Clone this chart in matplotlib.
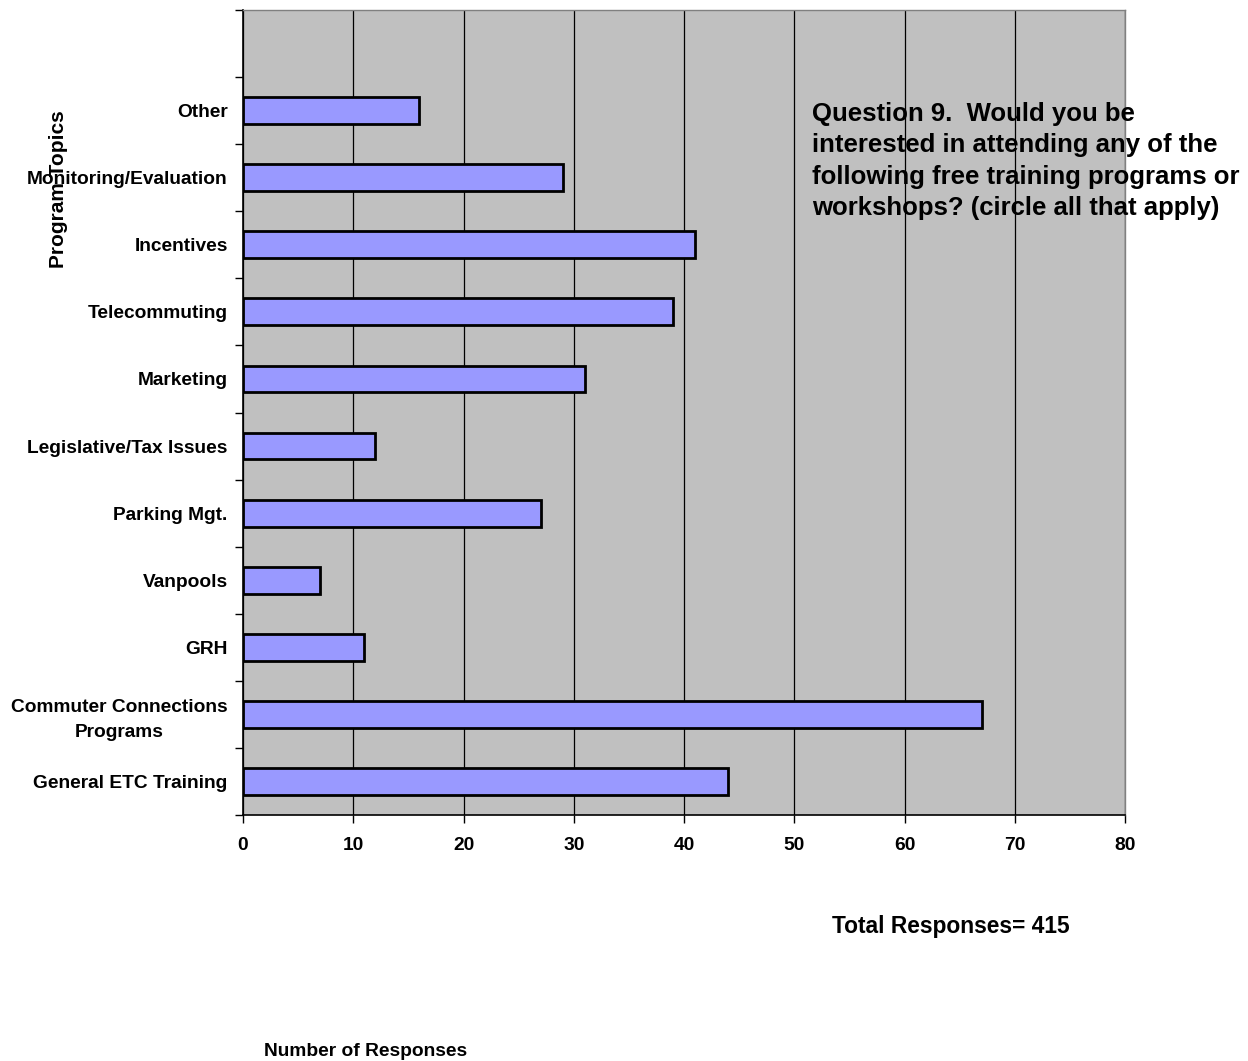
import matplotlib
matplotlib.use("Agg")
import matplotlib.pyplot as plt
import numpy as np

categories = ["General ETC Training", "Commuter Connections\nPrograms", "GRH", "Vanpools",
              "Parking Mgt.", "Legislative/Tax Issues", "Marketing", "Telecommuting",
              "Incentives", "Monitoring/Evaluation", "Other"]
values = [44, 67, 11, 7, 27, 12, 31, 39, 41, 29, 16]
x_ticks = [0, 10, 20, 30, 40, 50, 60, 70, 80]

plt.rcParams['font.family'] = ['Liberation Sans', 'DejaVu Sans']
plt.rcParams['font.weight'] = 'bold'

fig = plt.figure(figsize=(12.48, 10.61), dpi=100)
ax = fig.add_axes([243/1248, 1-815/1061, (1125-243)/1248, (815-10)/1061])
ax.set_facecolor('#c0c0c0')

y = np.arange(len(categories))
ax.barh(y, values, height=0.4, color='#9999ff', edgecolor='black', linewidth=2, zorder=3)

ax.set_xlim(0, 80)
ax.set_ylim(-0.5, len(categories) + 0.5)
ax.set_xticks(x_ticks)
ax.set_xticklabels([str(t) for t in x_ticks], fontsize=13.8, fontweight='bold')
ax.xaxis.grid(True, color='black', linewidth=0.9, zorder=1)
ax.set_axisbelow(True)

ax.set_yticks(y)
ax.set_yticklabels(categories, fontsize=13.8, fontweight='bold', ha='right',
                   multialignment='center', linespacing=1.6)
ax.tick_params(axis='y', which='major', length=0, pad=11)
ax.set_yticks(np.arange(-0.5, len(categories) + 1), minor=True)
ax.tick_params(axis='y', which='minor', length=6, width=1, color='black')
ax.tick_params(axis='x', which='major', length=6, width=1, pad=10)

for s in ['left', 'bottom']:
    ax.spines[s].set_color('black')
    ax.spines[s].set_linewidth(1.2)
for s in ['top', 'right']:
    ax.spines[s].set_color('#808080')
    ax.spines[s].set_linewidth(1.0)

fig.text(58/1248, 1-189/1061, "Program Topics", rotation=90, ha='center', va='center',
         fontsize=15, fontweight='bold')
fig.text(812/1248, 1-161/1061,
         "Question 9.  Would you be\ninterested in attending any of the\nfollowing free training programs or\nworkshops? (circle all that apply)",
         ha='left', va='center', fontsize=18.5, fontweight='bold', linespacing=1.37)
fig.text(951/1248, 1-926/1061, "Total Responses= 415", ha='center', va='center',
         fontsize=16.4, fontweight='bold')
fig.text(366/1248, 1-1052/1061, "Number of Responses", ha='center', va='center',
         fontsize=13.8, fontweight='bold')

fig.savefig("out.png", dpi=100)
